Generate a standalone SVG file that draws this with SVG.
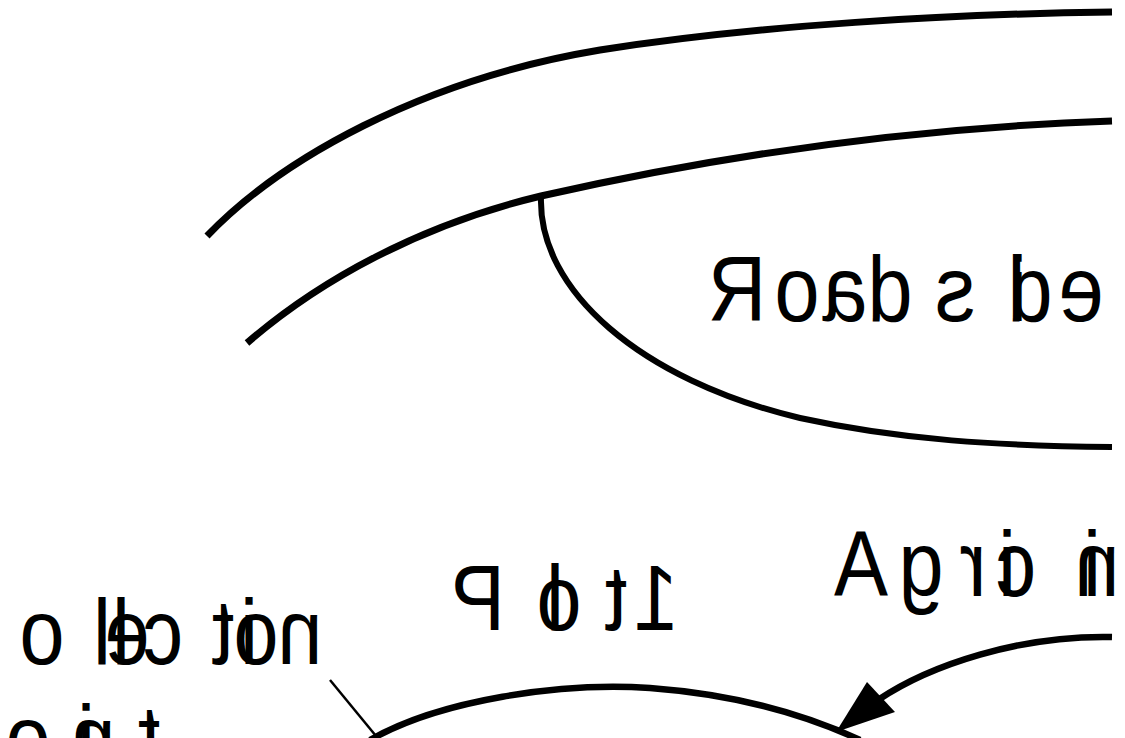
<svg xmlns="http://www.w3.org/2000/svg" width="1125" height="738" viewBox="0 0 1125 738">
  <style>
    .edge { fill: none; stroke: #000; stroke-width: 7; stroke-linecap: butt; stroke-linejoin: round; }
    .thin { fill: none; stroke: #000; stroke-width: 2.5; }
    .lbl { font-family: "Liberation Sans", Arial, sans-serif; font-size: 92px; fill: #000; text-anchor: middle; }
  </style>
  <rect width="1125" height="738" fill="#fff"/>
  <g id="road">
    <path class="edge" d="M207,236 C280,160 420,80 600,50 C760,25 950,14 1112,12"/>
    <path class="edge" d="M247,343 C320,280 420,225 541,196 C700,160 900,128 1112,121"/>
  </g>
  <g id="roadside">
    <path class="edge" style="stroke-width:6" d="M541,197 C538,290 640,380 800,418 C900,440 1000,446 1112,447"/>
    <text class="lbl" transform="scale(-0.88,1)" x="-837.5 -905.7 -960.2 -1011.4 -1085.2 -1156.8 -1170.5 -1228.4" y="321">Roadside</text>
  </g>
  <g id="plot1">
    <path class="edge" style="stroke-width:6.5" d="M370,740 C440,700 560,682 650,688 C730,694 800,712 860,740"/>
    <text class="lbl" transform="scale(-0.88,1)" x="-543.2 -630.7 -635.2 -700 -722.7 -745.5" y="630">Plot 1</text>
  </g>
  <g id="agric">
    <text class="lbl" transform="scale(-0.88,1)" x="-978.4 -1046.6 -1105.7 -1144.3 -1154.5 -1193.2 -1240.9 -1246.6" y="596">Agric in</text>
  </g>
  <g id="collection-point">
    <text class="lbl" transform="scale(-0.88,1)" x="22.7 -47.7 -115.9 -137.5 -144.3 -185.2 -253.4 -283 -290.9 -340.9" y="664">collection</text>
    <text class="lbl" transform="scale(-0.88,1)" x="34.1 -31.8 -97.7 -105.7 -169.3" y="770">point</text>
  </g>
  <g id="connectors">
    <path class="thin" d="M330,680 L376,736"/>
    <path class="edge" style="stroke-width:6.5" d="M1112,637 C1020,635 930,665 878,700"/>
    <polygon points="836,732 867,682 895,712" fill="#000"/>
  </g>
</svg>
